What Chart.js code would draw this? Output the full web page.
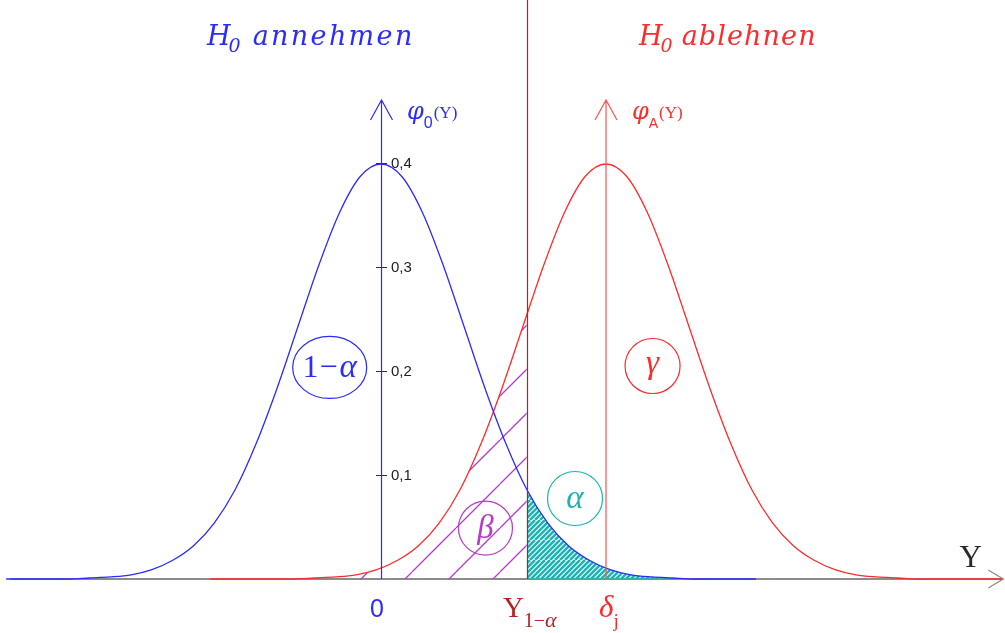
<!DOCTYPE html>
<html>
<head>
<meta charset="utf-8">
<script src="https://cdn.jsdelivr.net/npm/chart.js@4.4.0/dist/chart.umd.min.js"></script>
<style>
  html, body { margin: 0; padding: 0; background: #fff; }
  #wrap { position: relative; width: 1005px; height: 633px; }
</style>
</head>
<body>
<div id="wrap"><canvas id="density-chart"></canvas></div>
<script>
// centres of the two densities and the critical value on the Y axis
const h0Center = 0;
const haCenter = 2.7;        // delta_j
const criticalY = 1.75;      // Y_{1-alpha}
const haDensityAtCritical = 0.254;

// phi_0(Y)
const h0X = [-4.5, -4.25, -4, -3.75, -3.5, -3.25, -3, -2.75, -2.5, -2.25, -2, -1.75, -1.5, -1.25, -1, -0.75, -0.5, -0.25,
  0, 0.25, 0.5, 0.75, 1, 1.25, 1.5, 1.75, 2, 2.25, 2.5, 2.75, 3, 3.25, 3.5, 3.75, 4, 4.25, 4.5];
const h0Density = [0, 0, 0, 0, 0.001, 0.002, 0.004, 0.009, 0.018, 0.032, 0.054, 0.086, 0.130, 0.183, 0.242, 0.301, 0.352, 0.387,
  0.399, 0.387, 0.352, 0.301, 0.242, 0.183, 0.130, 0.086, 0.054, 0.032, 0.018, 0.009, 0.004, 0.002, 0.001, 0, 0, 0, 0];

// phi_A(Y)
const haX = [-2.05, -1.8, -1.55, -1.3, -1.05, -0.8, -0.55, -0.3, -0.05, 0.2, 0.45, 0.7, 0.95, 1.2, 1.45, 1.7, 1.95, 2.2, 2.45,
  2.7, 2.95, 3.2, 3.45, 3.7, 3.95, 4.2, 4.45, 4.7, 4.95, 5.2, 5.45, 5.7, 5.95, 6.2, 6.45, 6.7, 6.95, 7.2, 7.45];
const haDensity = [0, 0, 0, 0, 0, 0.001, 0.002, 0.004, 0.009, 0.018, 0.032, 0.054, 0.086, 0.130, 0.183, 0.242, 0.301, 0.352, 0.387,
  0.399, 0.387, 0.352, 0.301, 0.242, 0.183, 0.130, 0.086, 0.054, 0.032, 0.018, 0.009, 0.004, 0.002, 0.001, 0, 0, 0, 0, 0];

const densityTicks = [0.1, 0.2, 0.3, 0.4];
const densityTickLabels = ["0,1", "0,2", "0,3", "0,4"];

const BLUE = "#2b2bff";
const RED = "#ff2b2b";
const DARK_RED = "#b82020";
const TEAL = "#1fb3b3";
const PURPLE = "#b43cc8";

const h0Points = h0X.map((x, i) => ({ x: x, y: h0Density[i] }));
const haPoints = haX.map((x, i) => ({ x: x, y: haDensity[i] }));
// alpha: right tail of phi_0 beyond the critical value
const alphaPoints = h0Points.filter(p => p.x >= criticalY);
// beta: phi_A left of the critical value
const betaPoints = haPoints.filter(p => p.x < criticalY).concat([{ x: criticalY, y: haDensityAtCritical }]);

// diagonal "/" hatching, lines x + y = offset (mod gap)
function hatch(size, gap, offset, color, width) {
  const c = document.createElement("canvas");
  c.width = c.height = size;
  const g = c.getContext("2d");
  g.strokeStyle = color;
  g.lineWidth = width;
  g.beginPath();
  for (let k = -size; k <= 2 * size; k += gap) {
    const s = k + offset;
    g.moveTo(s, 0);
    g.lineTo(s - size, size);
  }
  g.stroke();
  return g.createPattern(c, "repeat");
}

function drawRuns(ctx, x, y, runs, align) {
  let total = 0;
  runs.forEach(r => {
    ctx.font = r.font;
    ctx.letterSpacing = (r.ls || 0) + "px";
    r.w = ctx.measureText(r.text).width + (r.dx || 0) + (r.after || 0);
    total += r.w;
  });
  let cx = align === "center" ? x - total / 2 : x;
  runs.forEach(r => {
    ctx.font = r.font;
    ctx.letterSpacing = (r.ls || 0) + "px";
    ctx.fillStyle = r.color;
    ctx.fillText(r.text, cx + (r.dx || 0), y + (r.dy || 0));
    cx += r.w;
  });
  ctx.letterSpacing = "0px";
}

// spacing so that a word spans a given width
function spacingFor(ctx, text, font, width) {
  ctx.font = font;
  ctx.letterSpacing = "0px";
  return (width - ctx.measureText(text).width) / text.length;
}

function upArrow(ctx, px, top, bottom, color) {
  ctx.strokeStyle = color;
  ctx.lineWidth = 1.2;
  ctx.beginPath();
  ctx.moveTo(px, bottom);
  ctx.lineTo(px, top);
  ctx.moveTo(px - 11, top + 20);
  ctx.lineTo(px, top);
  ctx.lineTo(px + 11, top + 20);
  ctx.stroke();
}

function ring(ctx, cx, cy, rx, ry, color) {
  ctx.strokeStyle = color;
  ctx.lineWidth = 1.2;
  ctx.beginPath();
  ctx.ellipse(cx, cy, rx, ry, 0, 0, Math.PI * 2);
  ctx.stroke();
}

const decor = {
  id: "decor",
  beforeDatasetsDraw(chart) {
    const { ctx, scales: { x, y } } = chart;
    const y0 = y.getPixelForValue(0);
    const tip = x.getPixelForValue(7.47);
    ctx.save();
    ctx.strokeStyle = "#8c8c8c";
    ctx.lineWidth = 2;
    ctx.beginPath();
    ctx.moveTo(x.getPixelForValue(-4.45), y0);
    ctx.lineTo(tip, y0);
    ctx.stroke();
    ctx.lineWidth = 1.3;
    ctx.beginPath();
    ctx.moveTo(tip - 15, y0 - 9);
    ctx.lineTo(tip, y0);
    ctx.lineTo(tip - 15, y0 + 9);
    ctx.stroke();
    ctx.restore();
  },
  afterDatasetsDraw(chart) {
    const { ctx, scales: { x, y }, chartArea } = chart;
    const X = v => x.getPixelForValue(v);
    const Y = v => y.getPixelForValue(v);
    const y0 = Y(0);
    const top = Y(0.4606);
    ctx.save();

    // critical value line
    ctx.strokeStyle = DARK_RED;
    ctx.lineWidth = 1.2;
    ctx.beginPath();
    ctx.moveTo(Math.round(X(criticalY)) + 0.5, chartArea.top);
    ctx.lineTo(Math.round(X(criticalY)) + 0.5, y0);
    ctx.stroke();

    // density axes
    upArrow(ctx, Math.round(X(h0Center)) + 0.5, top, y0, BLUE);
    upArrow(ctx, Math.round(X(haCenter)), top, y0, "#ff5050");

    // ticks on phi_0 axis
    ctx.strokeStyle = "#333";
    ctx.lineWidth = 1;
    ctx.textBaseline = "middle";
    densityTicks.forEach((t, i) => {
      const py = Math.round(Y(t)) + 0.5;
      ctx.beginPath();
      ctx.moveTo(X(h0Center) - 5, py);
      ctx.lineTo(X(h0Center) + 6, py);
      ctx.stroke();
      ctx.font = "15px 'Liberation Sans'";
      ctx.fillStyle = "#222";
      ctx.fillText(densityTickLabels[i], X(h0Center) + 10, py + 0.5);
    });
    ctx.textBaseline = "alphabetic";

    // axis captions
    drawRuns(ctx, X(h0Center) + 26, top + 19, [
      { text: "\u03C6", font: "italic 24px 'DejaVu Serif'", color: BLUE },
      { text: "0", font: "16px 'Liberation Sans'", color: BLUE, dy: 9 },
      { text: "(Y)", font: "17px 'Liberation Serif'", color: BLUE, dx: 1, dy: -1 }
    ], "left");
    drawRuns(ctx, X(haCenter) + 26, top + 19, [
      { text: "\u03C6", font: "italic 24px 'DejaVu Serif'", color: RED },
      { text: "A", font: "14px 'Liberation Sans'", color: RED, dy: 9 },
      { text: "(Y)", font: "17px 'Liberation Serif'", color: RED, dx: 1, dy: -1 }
    ], "left");

    // region titles
    const tFont = "italic 27px 'DejaVu Serif'";
    drawRuns(ctx, chartArea.left + 207, 45, [
      { text: "H", font: tFont, color: BLUE },
      { text: "0", font: "italic 19px 'DejaVu Serif'", color: BLUE, dy: 7, dx: -2 },
      { text: "annehmen", font: tFont, color: BLUE, dx: 12, ls: spacingFor(ctx, "annehmen", tFont, 162) }
    ], "left");
    drawRuns(ctx, chartArea.left + 639, 45, [
      { text: "H", font: tFont, color: RED },
      { text: "0", font: "italic 19px 'DejaVu Serif'", color: RED, dy: 7, dx: -2 },
      { text: "ablehnen", font: tFont, color: RED, dx: 9, ls: spacingFor(ctx, "ablehnen", tFont, 135) }
    ], "left");

    // area labels
    const gFont = "italic 33px 'Liberation Serif'";
    ring(ctx, X(-0.616), Y(0.2034), 37, 31, BLUE);
    drawRuns(ctx, X(-0.616), Y(0.2034) + 10, [
      { text: "1", font: "32px 'Liberation Serif'", color: BLUE },
      { text: "\u2212", font: "32px 'Liberation Serif'", color: BLUE, dx: 1, after: 2 },
      { text: "\u03B1", font: gFont, color: BLUE }
    ], "center");
    ring(ctx, X(3.26), Y(0.2048), 27.5, 27.5, RED);
    drawRuns(ctx, X(3.26), Y(0.2048) + 7, [{ text: "\u03B3", font: gFont, color: RED }], "center");
    ring(ctx, X(1.254), Y(0.049), 27, 27, PURPLE);
    drawRuns(ctx, X(1.254), Y(0.049) + 10, [{ text: "\u03B2", font: gFont, color: PURPLE }], "center");
    ring(ctx, X(2.329), Y(0.0774), 27.5, 27, TEAL);
    drawRuns(ctx, X(2.329), Y(0.0774) + 9, [{ text: "\u03B1", font: gFont, color: TEAL }], "center");

    // labels under the Y axis
    drawRuns(ctx, X(h0Center) - 4, y0 + 38, [{ text: "0", font: "25px 'Liberation Sans'", color: BLUE }], "center");
    drawRuns(ctx, X(criticalY) + 3, y0 + 38, [
      { text: "Y", font: "29px 'Liberation Serif'", color: DARK_RED },
      { text: "1\u2212", font: "20px 'Liberation Serif'", color: DARK_RED, dy: 10 },
      { text: "\u03B1", font: "italic 22px 'Liberation Serif'", color: DARK_RED, dy: 10 }
    ], "center");
    drawRuns(ctx, X(haCenter) + 3, y0 + 38, [
      { text: "\u03B4", font: "italic 31px 'Liberation Serif'", color: RED },
      { text: "j", font: "19px 'Liberation Serif'", color: RED, dy: 10 }
    ], "center");
    drawRuns(ctx, X(7.08), y0 - 12, [{ text: "Y", font: "31px 'Liberation Serif'", color: "#2a2a2a" }], "center");

    ctx.restore();
  }
};

const ctx = document.getElementById("density-chart").getContext("2d");
new Chart(ctx, {
  type: "line",
  data: {
    datasets: [
      {
        label: "phi_0",
        data: h0Points,
        borderColor: BLUE,
        borderWidth: 1.3,
        pointRadius: 0,
        fill: false,
        cubicInterpolationMode: "monotone",
        order: 0
      },
      {
        label: "phi_A",
        data: haPoints,
        borderColor: RED,
        borderWidth: 1.3,
        pointRadius: 0,
        fill: false,
        cubicInterpolationMode: "monotone",
        order: 0
      },
      {
        label: "alpha",
        data: alphaPoints,
        borderColor: "rgba(0,0,0,0)",
        backgroundColor: hatch(20, 5, 0, TEAL, 2.6),
        pointRadius: 0,
        fill: "origin",
        cubicInterpolationMode: "monotone",
        order: 1
      },
      {
        label: "beta",
        data: betaPoints,
        borderColor: "rgba(0,0,0,0)",
        backgroundColor: hatch(44, 44, 16, PURPLE, 1.3),
        pointRadius: 0,
        fill: "origin",
        cubicInterpolationMode: "monotone",
        order: 1
      }
    ]
  },
  options: {
    responsive: true,
    maintainAspectRatio: false,
    animation: false,
    events: [],
    layout: { padding: 0 },
    plugins: {
      legend: { display: false },
      tooltip: { enabled: false }
    },
    scales: {
      x: { type: "linear", min: -4.574, max: 7.491, display: false },
      y: { min: -0.0519, max: 0.5567, display: false }
    }
  },
  plugins: [decor]
});
</script>
</body>
</html>
